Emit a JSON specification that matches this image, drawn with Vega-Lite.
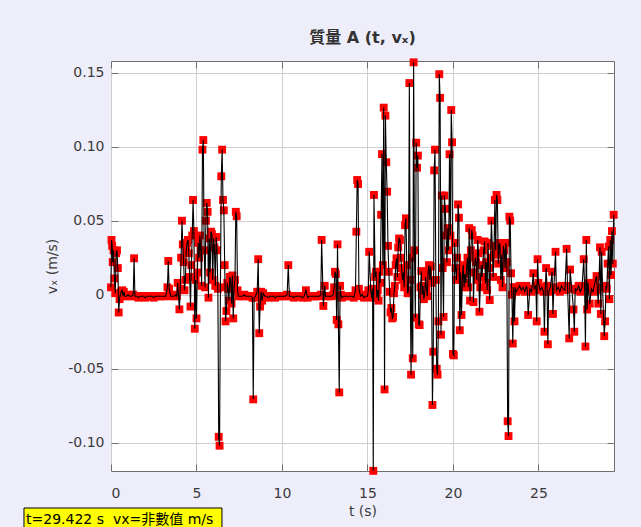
{
  "$schema": "https://vega.github.io/schema/vega-lite/v6.json",
  "width": 503,
  "height": 410,
  "autosize": {"type": "none"},
  "padding": {"left": 111, "top": 61, "right": 27, "bottom": 56},
  "background": "#EEEEFA",
  "title": {
    "text": "質量 A (t, vₓ)",
    "font": "DejaVu Sans, Noto Sans CJK TC",
    "fontSize": 16,
    "fontWeight": "bold",
    "color": "#333333",
    "anchor": "middle",
    "offset": 12
  },
  "config": {
    "view": {"stroke": "#6E6E6E", "strokeWidth": 1, "fill": "#FFFFFF"},
    "axis": {
      "labelFont": "DejaVu Sans",
      "labelFontSize": 14,
      "labelColor": "#3A3A3A",
      "titleFont": "DejaVu Sans",
      "titleFontSize": 14,
      "titleFontWeight": "normal",
      "titleColor": "#3A3A3A",
      "gridColor": "#CFCFCF",
      "gridWidth": 1,
      "tickColor": "#707070",
      "tickSize": -7,
      "domain": false
    }
  },
  "data": {
    "values": [
      {"t":0,"v":0.005},{"t":0.03,"v":0.037},{"t":0.07,"v":0.033},{"t":0.1,"v":0.022},{"t":0.15,"v":0.030},
      {"t":0.2,"v":0.011},{"t":0.25,"v":0.001},{"t":0.3,"v":0.028},{"t":0.35,"v":0.030},{"t":0.4,"v":0.018},
      {"t":0.45,"v":-0.012},{"t":0.5,"v":-0.003},{"t":0.55,"v":0},{"t":0.6,"v":0.002},{"t":0.65,"v":0.003},
      {"t":0.7,"v":-0.001},{"t":0.75,"v":0.002},{"t":0.8,"v":-0.001},{"t":0.9,"v":-0.001},{"t":1.0,"v":0},
      {"t":1.1,"v":-0.001},{"t":1.2,"v":-0.001},{"t":1.3,"v":0},{"t":1.35,"v":0.0246},{"t":1.4,"v":-0.001},
      {"t":1.5,"v":-0.001},{"t":1.6,"v":-0.002},{"t":1.7,"v":-0.001},{"t":1.8,"v":-0.001},{"t":1.9,"v":-0.001},
      {"t":2.0,"v":-0.002},{"t":2.1,"v":-0.001},{"t":2.2,"v":-0.001},{"t":2.3,"v":-0.001},{"t":2.4,"v":-0.001},
      {"t":2.5,"v":-0.002},{"t":2.6,"v":-0.001},{"t":2.7,"v":-0.001},{"t":2.8,"v":-0.001},{"t":2.9,"v":-0.001},
      {"t":3.0,"v":-0.001},{"t":3.1,"v":-0.001},{"t":3.2,"v":-0.001},{"t":3.3,"v":0.005},{"t":3.35,"v":0.0228},
      {"t":3.4,"v":0.004},{"t":3.5,"v":-0.001},{"t":3.6,"v":-0.001},{"t":3.7,"v":-0.001},{"t":3.8,"v":0},
      {"t":3.85,"v":-0.001},{"t":3.9,"v":0.008},{"t":4.0,"v":-0.0099},{"t":4.05,"v":0.004},{"t":4.1,"v":0.025},
      {"t":4.15,"v":0.050},{"t":4.2,"v":0.034},{"t":4.25,"v":0.022},{"t":4.3,"v":0.003},{"t":4.35,"v":0.010},
      {"t":4.4,"v":0.030},{"t":4.45,"v":0.035},{"t":4.5,"v":0.037},{"t":4.55,"v":0.028},{"t":4.6,"v":0.012},
      {"t":4.65,"v":-0.008},{"t":4.7,"v":0.020},{"t":4.75,"v":0.040},{"t":4.8,"v":0.064},{"t":4.85,"v":0.043},
      {"t":4.9,"v":-0.023},{"t":4.95,"v":0.010},{"t":5.0,"v":-0.016},{"t":5.05,"v":0.015},{"t":5.1,"v":0.035},
      {"t":5.15,"v":0.025},{"t":5.2,"v":0.040},{"t":5.25,"v":0.030},{"t":5.3,"v":0.006},{"t":5.35,"v":0.098},
      {"t":5.4,"v":0.1045},{"t":5.45,"v":0.030},{"t":5.5,"v":0.005},{"t":5.55,"v":0.050},{"t":5.6,"v":0.062},
      {"t":5.65,"v":0.056},{"t":5.7,"v":-0.002},{"t":5.75,"v":0.038},{"t":5.8,"v":0.015},{"t":5.85,"v":0.0426},
      {"t":5.9,"v":0.041},{"t":5.95,"v":0.010},{"t":6.0,"v":0.038},{"t":6.05,"v":0.032},{"t":6.1,"v":0.006},
      {"t":6.15,"v":0.039},{"t":6.2,"v":0.030},{"t":6.25,"v":0.004},{"t":6.3,"v":-0.096},{"t":6.35,"v":-0.102},
      {"t":6.4,"v":0.005},{"t":6.45,"v":0.080},{"t":6.5,"v":0.098},{"t":6.55,"v":0.064},{"t":6.6,"v":0.057},
      {"t":6.65,"v":0.020},{"t":6.7,"v":-0.018},{"t":6.75,"v":-0.011},{"t":6.8,"v":0.008},{"t":6.85,"v":0.004},
      {"t":6.9,"v":-0.004},{"t":6.95,"v":0.012},{"t":7.0,"v":0.010},{"t":7.05,"v":-0.006},{"t":7.1,"v":0.013},
      {"t":7.15,"v":-0.016},{"t":7.2,"v":0.005},{"t":7.25,"v":0.010},{"t":7.3,"v":0.056},{"t":7.35,"v":0.053},
      {"t":7.4,"v":0.003},{"t":7.45,"v":-0.001},{"t":7.5,"v":-0.001},{"t":7.6,"v":-0.001},{"t":7.7,"v":-0.001},
      {"t":7.8,"v":0},{"t":7.9,"v":-0.001},{"t":8.0,"v":-0.001},{"t":8.1,"v":-0.001},{"t":8.2,"v":-0.001},
      {"t":8.27,"v":-0.002},{"t":8.32,"v":-0.0707},{"t":8.37,"v":-0.002},{"t":8.45,"v":-0.001},{"t":8.55,"v":0.002},
      {"t":8.61,"v":0.024},{"t":8.67,"v":-0.026},{"t":8.72,"v":-0.008},{"t":8.78,"v":0.002},{"t":8.84,"v":-0.004},
      {"t":8.9,"v":0.001},{"t":9.0,"v":-0.001},{"t":9.1,"v":-0.001},{"t":9.2,"v":-0.002},{"t":9.3,"v":-0.001},
      {"t":9.4,"v":-0.001},{"t":9.5,"v":-0.001},{"t":9.6,"v":-0.002},{"t":9.7,"v":-0.001},{"t":9.8,"v":-0.001},
      {"t":9.9,"v":-0.001},{"t":10.0,"v":-0.001},{"t":10.1,"v":-0.001},{"t":10.2,"v":-0.001},{"t":10.3,"v":0},
      {"t":10.37,"v":0.020},{"t":10.43,"v":-0.001},{"t":10.5,"v":-0.001},{"t":10.6,"v":-0.001},{"t":10.7,"v":-0.002},
      {"t":10.8,"v":-0.001},{"t":10.9,"v":-0.001},{"t":11.0,"v":-0.001},{"t":11.1,"v":-0.001},{"t":11.2,"v":-0.002},
      {"t":11.3,"v":-0.001},{"t":11.4,"v":0.003},{"t":11.5,"v":-0.002},{"t":11.6,"v":-0.001},{"t":11.7,"v":-0.001},
      {"t":11.8,"v":-0.001},{"t":11.9,"v":-0.001},{"t":12.0,"v":-0.001},{"t":12.1,"v":-0.001},{"t":12.2,"v":-0.001},
      {"t":12.27,"v":0},{"t":12.32,"v":0.037},{"t":12.42,"v":-0.0076},{"t":12.5,"v":0.006},{"t":12.55,"v":-0.001},
      {"t":12.6,"v":-0.001},{"t":12.7,"v":-0.001},{"t":12.8,"v":-0.001},{"t":12.9,"v":-0.001},{"t":13.0,"v":0},
      {"t":13.05,"v":0.005},{"t":13.1,"v":0.0155},{"t":13.15,"v":0.014},{"t":13.2,"v":-0.017},{"t":13.25,"v":0.034},
      {"t":13.3,"v":-0.020},{"t":13.35,"v":-0.066},{"t":13.4,"v":0.006},{"t":13.45,"v":0},{"t":13.5,"v":-0.002},
      {"t":13.6,"v":-0.001},{"t":13.7,"v":-0.001},{"t":13.8,"v":-0.001},{"t":13.9,"v":-0.001},{"t":14.0,"v":-0.001},
      {"t":14.1,"v":-0.001},{"t":14.2,"v":-0.002},{"t":14.3,"v":0.003},{"t":14.35,"v":0.0426},{"t":14.4,"v":0.0775},
      {"t":14.45,"v":0.0748},{"t":14.5,"v":0.004},{"t":14.6,"v":-0.001},{"t":14.7,"v":0},{"t":14.8,"v":-0.002},
      {"t":14.9,"v":-0.001},{"t":15.0,"v":-0.001},{"t":15.05,"v":0.003},{"t":15.1,"v":0.029},{"t":15.2,"v":0.002},
      {"t":15.25,"v":-0.002},{"t":15.3,"v":0.004},{"t":15.34,"v":-0.119},{"t":15.38,"v":0.0674},{"t":15.45,"v":0.012},
      {"t":15.5,"v":0.0155},{"t":15.55,"v":-0.002},{"t":15.6,"v":0.003},{"t":15.65,"v":-0.004},{"t":15.7,"v":0.0155},
      {"t":15.75,"v":0.008},{"t":15.8,"v":0.054},{"t":15.85,"v":0.095},{"t":15.9,"v":0.020},{"t":15.95,"v":0.1264},
      {"t":16.0,"v":-0.064},{"t":16.05,"v":0.121},{"t":16.1,"v":0.0895},{"t":16.15,"v":0.0696},{"t":16.2,"v":0.033},
      {"t":16.25,"v":0.0155},{"t":16.3,"v":0.002},{"t":16.35,"v":-0.012},{"t":16.4,"v":-0.009},{"t":16.45,"v":-0.016},
      {"t":16.5,"v":-0.015},{"t":16.55,"v":0.001},{"t":16.6,"v":0.006},{"t":16.65,"v":0.020},{"t":16.7,"v":0.0246},
      {"t":16.75,"v":0.012},{"t":16.8,"v":0.032},{"t":16.85,"v":0.038},{"t":16.9,"v":0.037},{"t":16.95,"v":0.025},
      {"t":17.0,"v":0.018},{"t":17.05,"v":0.010},{"t":17.1,"v":0.015},{"t":17.15,"v":0.005},{"t":17.2,"v":0.047},
      {"t":17.25,"v":0.0516},{"t":17.3,"v":0.020},{"t":17.35,"v":0.001},{"t":17.4,"v":0.003},{"t":17.45,"v":0.143},
      {"t":17.5,"v":0.010},{"t":17.55,"v":-0.054},{"t":17.6,"v":0.025},{"t":17.65,"v":-0.043},{"t":17.7,"v":0.157},
      {"t":17.75,"v":0.030},{"t":17.8,"v":-0.0155},{"t":17.85,"v":0.1027},{"t":17.9,"v":0.0858},{"t":17.95,"v":0.094},
      {"t":18.0,"v":-0.020},{"t":18.05,"v":-0.0205},{"t":18.1,"v":0.005},{"t":18.15,"v":0.016},{"t":18.2,"v":0},
      {"t":18.25,"v":0.006},{"t":18.3,"v":-0.003},{"t":18.35,"v":0.001},{"t":18.4,"v":0.012},{"t":18.45,"v":0.004},
      {"t":18.5,"v":-0.001},{"t":18.55,"v":0.016},{"t":18.6,"v":0.020},{"t":18.65,"v":0.010},{"t":18.7,"v":0.019},
      {"t":18.75,"v":0.008},{"t":18.8,"v":-0.0745},{"t":18.85,"v":-0.0385},{"t":18.9,"v":0.084},{"t":18.95,"v":0.098},
      {"t":19.0,"v":0.010},{"t":19.05,"v":-0.050},{"t":19.1,"v":-0.054},{"t":19.15,"v":-0.018},{"t":19.2,"v":0.149},
      {"t":19.25,"v":0.133},{"t":19.3,"v":-0.027},{"t":19.35,"v":0.067},{"t":19.4,"v":0.018},{"t":19.45,"v":-0.015},
      {"t":19.5,"v":0.067},{"t":19.55,"v":0.058},{"t":19.6,"v":0.040},{"t":19.65,"v":0.022},{"t":19.7,"v":0.045},
      {"t":19.75,"v":0.030},{"t":19.8,"v":0.0949},{"t":19.85,"v":0.040},{"t":19.9,"v":0.1248},{"t":19.95,"v":0.103},
      {"t":20.0,"v":-0.040},{"t":20.05,"v":-0.041},{"t":20.1,"v":0.035},{"t":20.15,"v":0.018},{"t":20.2,"v":0.010},
      {"t":20.25,"v":0.025},{"t":20.3,"v":0.061},{"t":20.35,"v":0.052},{"t":20.4,"v":-0.024},{"t":20.45,"v":0.015},
      {"t":20.5,"v":-0.0137},{"t":20.55,"v":0.010},{"t":20.6,"v":0.020},{"t":20.65,"v":0.005},{"t":20.7,"v":0.014},
      {"t":20.75,"v":0.008},{"t":20.8,"v":0.018},{"t":20.85,"v":0.025},{"t":20.9,"v":0.005},{"t":20.95,"v":0.045},
      {"t":21.0,"v":-0.004},{"t":21.05,"v":0.030},{"t":21.1,"v":0.0437},{"t":21.15,"v":0.040},{"t":21.2,"v":-0.005},
      {"t":21.25,"v":0.015},{"t":21.3,"v":0.025},{"t":21.35,"v":0.022},{"t":21.4,"v":0.010},{"t":21.45,"v":0.037},
      {"t":21.5,"v":0.028},{"t":21.55,"v":-0.0115},{"t":21.6,"v":0.005},{"t":21.65,"v":0.020},{"t":21.7,"v":0.012},
      {"t":21.75,"v":0.020},{"t":21.8,"v":0.030},{"t":21.85,"v":0.036},{"t":21.9,"v":0.008},{"t":21.95,"v":0.022},
      {"t":22.0,"v":0.003},{"t":22.05,"v":0.035},{"t":22.1,"v":0.018},{"t":22.15,"v":-0.0036},{"t":22.2,"v":0.025},
      {"t":22.25,"v":0.050},{"t":22.3,"v":0.033},{"t":22.35,"v":0.012},{"t":22.4,"v":0.027},{"t":22.45,"v":0.064},
      {"t":22.5,"v":0.030},{"t":22.55,"v":0.0674},{"t":22.6,"v":0.064},{"t":22.65,"v":0.021},{"t":22.7,"v":0.033},
      {"t":22.75,"v":0.035},{"t":22.8,"v":0.010},{"t":22.85,"v":0.027},{"t":22.9,"v":0.005},{"t":22.95,"v":0.033},
      {"t":23.0,"v":0.030},{"t":23.05,"v":0.018},{"t":23.1,"v":0.035},{"t":23.15,"v":0.022},{"t":23.2,"v":-0.0855},
      {"t":23.25,"v":-0.0955},{"t":23.3,"v":0.0527},{"t":23.35,"v":0.050},{"t":23.4,"v":0.0145},{"t":23.45,"v":0},
      {"t":23.5,"v":-0.033},{"t":23.55,"v":0.005},{"t":23.6,"v":-0.018},{"t":23.65,"v":0.005},{"t":23.7,"v":0.002},
      {"t":23.8,"v":0.004},{"t":23.9,"v":0.006},{"t":24.0,"v":0.003},{"t":24.1,"v":0.005},{"t":24.2,"v":0.002},
      {"t":24.3,"v":0.006},{"t":24.35,"v":0.003},{"t":24.4,"v":-0.0137},{"t":24.5,"v":0.004},{"t":24.6,"v":0.002},
      {"t":24.7,"v":0.0145},{"t":24.75,"v":0.004},{"t":24.85,"v":0.006},{"t":24.9,"v":-0.018},{"t":24.95,"v":0.024},
      {"t":25.0,"v":0.008},{"t":25.1,"v":0.003},{"t":25.2,"v":0.005},{"t":25.3,"v":0.002},{"t":25.35,"v":-0.025},
      {"t":25.4,"v":0.004},{"t":25.45,"v":0.018},{"t":25.5,"v":0.006},{"t":25.55,"v":-0.0335},{"t":25.6,"v":0.002},
      {"t":25.7,"v":0.005},{"t":25.8,"v":0.0155},{"t":25.85,"v":-0.013},{"t":25.9,"v":0.004},{"t":26.0,"v":0.029},
      {"t":26.05,"v":0.003},{"t":26.15,"v":0.005},{"t":26.25,"v":0.002},{"t":26.35,"v":0.006},{"t":26.45,"v":0.004},
      {"t":26.55,"v":0.003},{"t":26.65,"v":0.031},{"t":26.7,"v":0.006},{"t":26.8,"v":-0.0295},{"t":26.85,"v":0.017},
      {"t":26.95,"v":0.004},{"t":27.05,"v":-0.010},{"t":27.1,"v":-0.025},{"t":27.15,"v":0.004},{"t":27.25,"v":0.003},
      {"t":27.35,"v":0.006},{"t":27.45,"v":0.002},{"t":27.55,"v":0.005},{"t":27.65,"v":0.024},{"t":27.7,"v":0.006},
      {"t":27.75,"v":-0.035},{"t":27.8,"v":0.037},{"t":27.85,"v":-0.010},{"t":27.9,"v":0.008},{"t":28.0,"v":-0.006},
      {"t":28.1,"v":0.004},{"t":28.2,"v":0.002},{"t":28.3,"v":0.008},{"t":28.4,"v":0.0126},{"t":28.45,"v":0.003},
      {"t":28.5,"v":-0.006},{"t":28.6,"v":0.032},{"t":28.65,"v":-0.013},{"t":28.7,"v":0.029},{"t":28.75,"v":0.005},
      {"t":28.85,"v":-0.028},{"t":28.9,"v":-0.018},{"t":28.95,"v":0.006},{"t":29.0,"v":0.004},{"t":29.05,"v":0.021},
      {"t":29.1,"v":0.0325},{"t":29.15,"v":-0.003},{"t":29.2,"v":0.037},{"t":29.25,"v":0.0133},{"t":29.3,"v":0.043},
      {"t":29.35,"v":0.021},{"t":29.4,"v":0.054}
    ]
  },
  "layer": [
    {
      "mark": {"type": "point", "shape": "square", "filled": true, "size": 62, "color": "#FF0000", "opacity": 1},
      "encoding": {
        "x": {
          "field": "t", "type": "quantitative",
          "scale": {"domain": [0, 29.42], "nice": false, "zero": false},
          "axis": {"values": [0, 5, 10, 15, 20, 25], "format": "d", "title": "t (s)", "grid": true, "labelPadding": 22, "titlePadding": 4}
        },
        "y": {
          "field": "v", "type": "quantitative",
          "scale": {"domain": [-0.1191, 0.1579], "nice": false, "zero": false},
          "axis": {
            "values": [-0.1, -0.05, 0, 0.05, 0.1, 0.15],
            "labelExpr": "abs(datum.value) < 1e-9 ? '0' : replace(format(datum.value, '.2f'), '\u2212', '-')",
            "title": "vₓ (m/s)", "grid": true, "labelPadding": 14, "titlePadding": 8
          }
        }
      }
    },
    {
      "mark": {"type": "line", "color": "#000000", "strokeWidth": 1.1},
      "encoding": {
        "x": {
          "field": "t", "type": "quantitative",
          "scale": {"domain": [0, 29.42], "nice": false, "zero": false},
          "axis": {"orient": "top", "values": [0, 5, 10, 15, 20, 25], "labels": false, "grid": false, "title": null}
        },
        "y": {
          "field": "v", "type": "quantitative",
          "scale": {"domain": [-0.1191, 0.1579], "nice": false, "zero": false},
          "axis": {"orient": "right", "values": [-0.1, -0.05, 0, 0.05, 0.1, 0.15], "labels": false, "grid": false, "title": null}
        }
      }
    },
    {
      "data": {"values": [{"readout": "t=29.422 s \u00a0vx=非數值 m/s"}]},
      "mark": {"type": "rect", "fill": "#FFFF00", "stroke": "#000000", "strokeWidth": 1},
      "encoding": {
        "x": {"datum": -5.09, "type": "quantitative", "scale": {"domain": [0, 29.42], "nice": false, "zero": false}, "axis": null},
        "x2": {"datum": 6.49},
        "y": {"datum": -0.1441, "type": "quantitative", "scale": {"domain": [-0.1191, 0.1579], "nice": false, "zero": false}, "axis": null},
        "y2": {"datum": -0.17}
      }
    },
    {
      "data": {"values": [{"readout": "t=29.422 s \u00a0vx=非數值 m/s"}]},
      "mark": {"type": "text", "align": "left", "baseline": "middle", "font": "DejaVu Sans, Noto Sans CJK TC", "fontSize": 14, "color": "#000000"},
      "encoding": {
        "x": {"datum": -4.97, "type": "quantitative", "scale": {"domain": [0, 29.42], "nice": false, "zero": false}, "axis": null},
        "y": {"datum": -0.1525, "type": "quantitative", "scale": {"domain": [-0.1191, 0.1579], "nice": false, "zero": false}, "axis": null},
        "text": {"field": "readout"}
      }
    }
  ],
  "resolve": {"axis": {"x": "independent", "y": "independent"}}
}
